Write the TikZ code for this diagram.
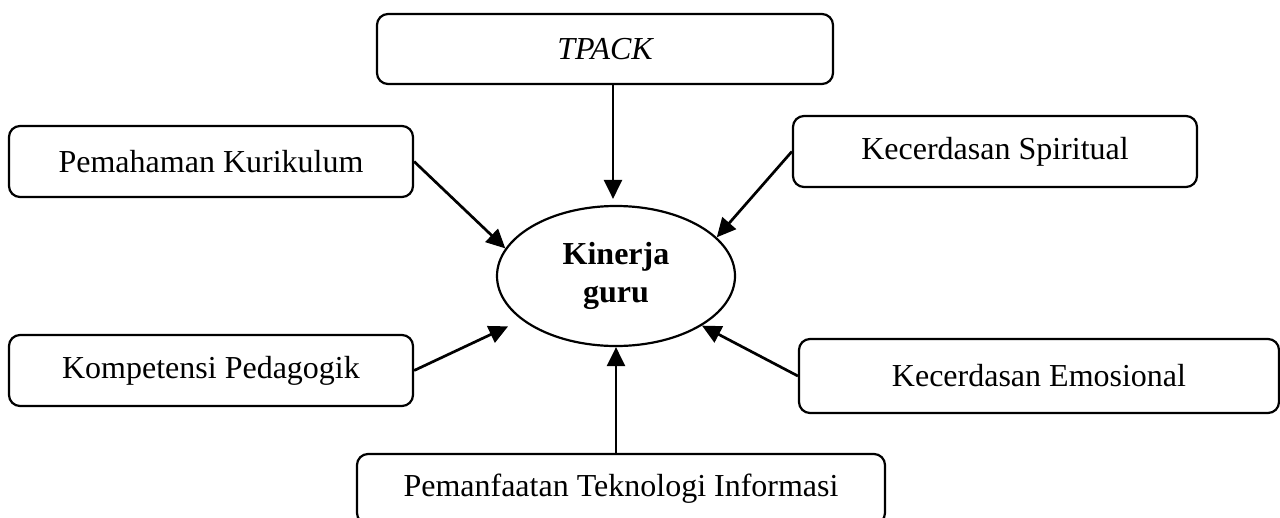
\documentclass[tikz,border=0pt]{standalone}
\usepackage{fontspec}
\setmainfont{Liberation Serif}
\usetikzlibrary{shapes.geometric,arrows.meta}
\tikzset{
  every node/.style={font=\fontsize{32}{38}\selectfont},
  boxnode/.style={draw, line width=2.2pt, rounded corners=11pt, inner sep=0pt, align=center},
  ellnode/.style={draw, ellipse, line width=2.2pt, inner sep=0pt, align=center, minimum width=238pt, minimum height=140pt, font=\fontsize{32}{38}\selectfont\bfseries},
  arr/.style={line width=2.7pt, -{Triangle[length=19pt,width=18pt]}}
}
\begin{document}
\begin{tikzpicture}[x=1pt,y=-1pt]
\useasboundingbox (0,0) rectangle (1280,517);
\clip (0,0) rectangle (1280,517);
\node[boxnode, minimum width=456pt, minimum height=70pt] (tpack) at (605,49) {\itshape TPACK};
\node[boxnode, minimum width=404pt, minimum height=71pt] (pk) at (211,161.5) {Pemahaman Kurikulum};
\node[boxnode, minimum width=404pt, minimum height=71pt] (ks) at (995,151.5) {Kecerdasan Spiritual};
\node[boxnode, minimum width=404pt, minimum height=71pt] (kp) at (211,370.5) {Kompetensi Pedagogik};
\node[boxnode, minimum width=480pt, minimum height=74pt] (ke) at (1039,376) {Kecerdasan Emosional};
\node[boxnode, minimum width=528pt, minimum height=70pt] (pti) at (621,489) {Pemanfaatan Teknologi Informasi};
\node[ellnode] (kin) at (616,276) {Kinerja\\guru};
\draw[arr, shorten >=6pt] ([xshift=-3pt]tpack.south -| kin.north) -- ([xshift=-3pt]kin.north);
\draw[arr] (pk.east) -- (kin.166);
\draw[arr] (ks.west) -- (kin.21);
\draw[arr, shorten >=15pt] (kp.east) -- (kin.205);
\draw[arr] (ke.west) -- (kin.330);
\draw[arr] (pti.north -| kin.south) -- (kin.south);
\end{tikzpicture}
\end{document}
